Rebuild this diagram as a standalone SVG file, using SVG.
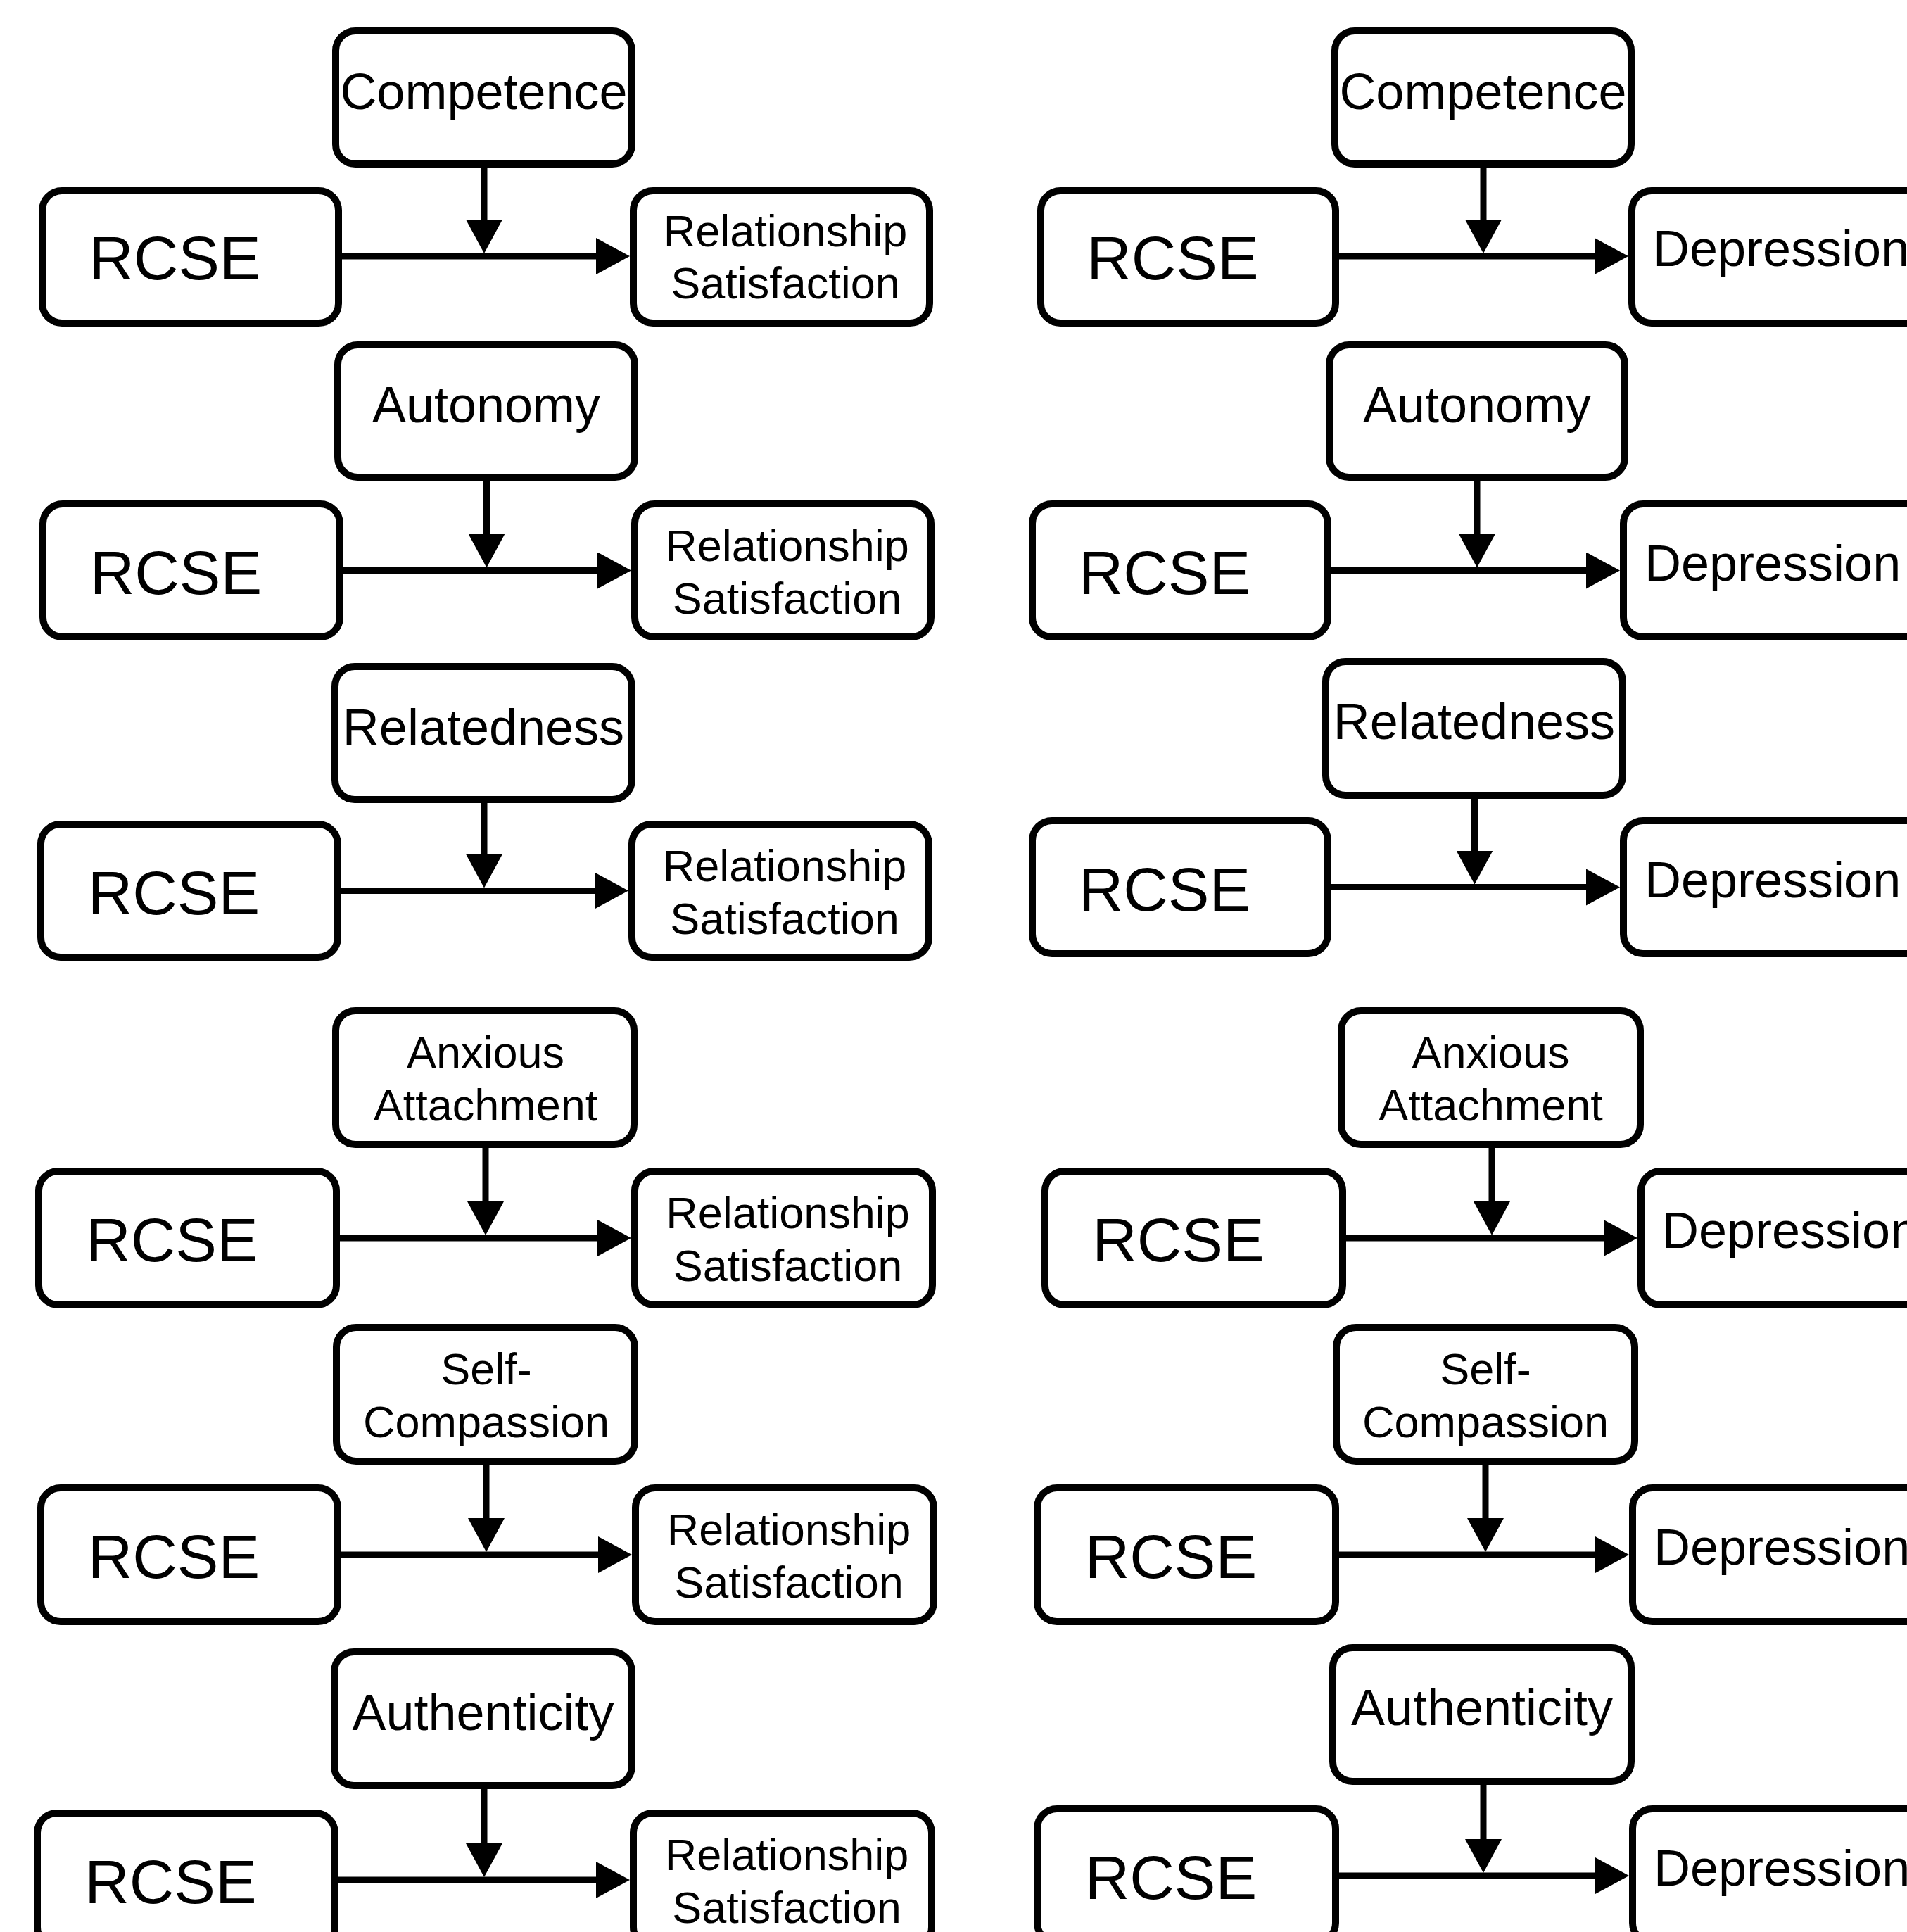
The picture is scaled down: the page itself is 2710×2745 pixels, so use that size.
<svg xmlns="http://www.w3.org/2000/svg" width="2710" height="2745" viewBox="0 0 2710 2745">
<defs>
<style>
.box{fill:#fff;stroke:#000;stroke-width:10}
.conn{fill:none;stroke:#000;stroke-width:9;marker-end:url(#ah)}
text{font-family:"Liberation Sans",Arial,Helvetica,sans-serif;fill:#000}
.t72{font-size:72px;text-anchor:middle}
.t63{font-size:63px;text-anchor:middle}
.t88{font-size:88px;text-anchor:middle}
.dep{font-size:72px;text-anchor:start}
</style>
<marker id="ah" viewBox="0 0 48 52" refX="28" refY="26" markerWidth="48" markerHeight="52" markerUnits="userSpaceOnUse" orient="auto">
<path d="M0,0 L48,26 L0,52 Z" fill="#000"/>
</marker>
</defs>
<rect width="2710" height="2745" fill="#fff"/>

<g id="connectors">
<path class="conn" d="M481,364 H875"/>
<path class="conn" d="M688,233 V340"/>
<path class="conn" d="M483,810.5 H877"/>
<path class="conn" d="M691.5,678 V786.5"/>
<path class="conn" d="M480,1265.5 H873"/>
<path class="conn" d="M688,1136 V1241.5"/>
<path class="conn" d="M478,1759 H877"/>
<path class="conn" d="M690,1626 V1735"/>
<path class="conn" d="M480,2209 H878"/>
<path class="conn" d="M691,2076 V2185"/>
<path class="conn" d="M476,2671 H875"/>
<path class="conn" d="M688,2537 V2647"/>
<path class="conn" d="M1898,364 H2294"/>
<path class="conn" d="M2108,233 V340"/>
<path class="conn" d="M1887,810.5 H2282"/>
<path class="conn" d="M2099,678 V786.5"/>
<path class="conn" d="M1887,1260.5 H2282"/>
<path class="conn" d="M2095.5,1130 V1236.5"/>
<path class="conn" d="M1908,1759 H2307"/>
<path class="conn" d="M2120,1626 V1735"/>
<path class="conn" d="M1898,2209 H2295"/>
<path class="conn" d="M2111,2076 V2185"/>
<path class="conn" d="M1898,2665 H2295"/>
<path class="conn" d="M2108,2531 V2641"/>
</g>

<!-- Left column -->
<g id="L1-mod"><rect class="box" x="477" y="44" width="421" height="189" rx="28"/><text class="t72" x="687.5" y="154.5">Competence</text></g>
<g id="L1-rcse"><rect class="box" x="60" y="271" width="421" height="188" rx="28"/><text class="t88" x="248.5" y="397">RCSE</text></g>
<g id="L1-out"><rect class="box" x="900" y="271" width="421" height="188" rx="28"/><text class="t63" x="1116" y="350">Relationship</text><text class="t63" x="1116" y="424">Satisfaction</text></g>

<g id="L2-mod"><rect class="box" x="480" y="490" width="422" height="188" rx="28"/><text class="t72" x="691" y="600">Autonomy</text></g>
<g id="L2-rcse"><rect class="box" x="61" y="716" width="422" height="189" rx="28"/><text class="t88" x="250" y="843.5">RCSE</text></g>
<g id="L2-out"><rect class="box" x="902" y="716" width="421" height="189" rx="28"/><text class="t63" x="1118.5" y="796.5">Relationship</text><text class="t63" x="1118.5" y="871.5">Satisfaction</text></g>

<g id="L3-mod"><rect class="box" x="476" y="947" width="422" height="189" rx="28"/><text class="t72" x="687" y="1057.5">Relatedness</text></g>
<g id="L3-rcse"><rect class="box" x="58" y="1171" width="422" height="189" rx="28"/><text class="t88" x="247" y="1298.5">RCSE</text></g>
<g id="L3-out"><rect class="box" x="898" y="1171" width="422" height="189" rx="28"/><text class="t63" x="1115" y="1251.5">Relationship</text><text class="t63" x="1115" y="1326.5">Satisfaction</text></g>

<g id="L4-mod"><rect class="box" x="477" y="1436" width="424" height="190" rx="28"/><text class="t63" x="690" y="1517">Anxious</text><text class="t63" x="690" y="1592">Attachment</text></g>
<g id="L4-rcse"><rect class="box" x="55" y="1664" width="423" height="190" rx="28"/><text class="t88" x="244.5" y="1792">RCSE</text></g>
<g id="L4-out"><rect class="box" x="902" y="1664" width="423" height="190" rx="28"/><text class="t63" x="1119.5" y="1745">Relationship</text><text class="t63" x="1119.5" y="1820">Satisfaction</text></g>

<g id="L5-mod"><rect class="box" x="478" y="1886" width="424" height="190" rx="28"/><text class="t63" x="691" y="1967">Self-</text><text class="t63" x="691" y="2042">Compassion</text></g>
<g id="L5-rcse"><rect class="box" x="58" y="2114" width="422" height="190" rx="28"/><text class="t88" x="247" y="2242">RCSE</text></g>
<g id="L5-out"><rect class="box" x="903" y="2114" width="424" height="190" rx="28"/><text class="t63" x="1121" y="2195">Relationship</text><text class="t63" x="1121" y="2270">Satisfaction</text></g>

<g id="L6-mod"><rect class="box" x="475" y="2347" width="423" height="190" rx="28"/><text class="t72" x="686.5" y="2458">Authenticity</text></g>
<g id="L6-rcse"><rect class="box" x="53" y="2576" width="423" height="190" rx="28"/><text class="t88" x="242.5" y="2704">RCSE</text></g>
<g id="L6-out"><rect class="box" x="900" y="2576" width="424" height="190" rx="28"/><text class="t63" x="1118" y="2657">Relationship</text><text class="t63" x="1118" y="2732">Satisfaction</text></g>

<!-- Right column -->
<g id="R1-mod"><rect class="box" x="1897" y="44" width="421" height="189" rx="28"/><text class="t72" x="2107.5" y="154.5">Competence</text></g>
<g id="R1-rcse"><rect class="box" x="1479" y="271" width="419" height="188" rx="28"/><text class="t88" x="1666.5" y="397">RCSE</text></g>
<g id="R1-out"><rect class="box" x="2319" y="271" width="500" height="188" rx="28"/><text class="dep" x="2349" y="378">Depression</text></g>

<g id="R2-mod"><rect class="box" x="1889" y="490" width="420" height="188" rx="28"/><text class="t72" x="2099" y="600">Autonomy</text></g>
<g id="R2-rcse"><rect class="box" x="1467" y="716" width="420" height="189" rx="28"/><text class="t88" x="1655" y="843.5">RCSE</text></g>
<g id="R2-out"><rect class="box" x="2307" y="716" width="500" height="189" rx="28"/><text class="dep" x="2337" y="824.5">Depression</text></g>

<g id="R3-mod"><rect class="box" x="1884" y="940" width="422" height="190" rx="28"/><text class="t72" x="2095" y="1050">Relatedness</text></g>
<g id="R3-rcse"><rect class="box" x="1467" y="1166" width="420" height="189" rx="28"/><text class="t88" x="1655" y="1293.5">RCSE</text></g>
<g id="R3-out"><rect class="box" x="2307" y="1166" width="500" height="189" rx="28"/><text class="dep" x="2337" y="1274.5">Depression</text></g>

<g id="R4-mod"><rect class="box" x="1906" y="1436" width="425" height="190" rx="28"/><text class="t63" x="2118.5" y="1517">Anxious</text><text class="t63" x="2118.5" y="1592">Attachment</text></g>
<g id="R4-rcse"><rect class="box" x="1485" y="1664" width="423" height="190" rx="28"/><text class="t88" x="1674.5" y="1792">RCSE</text></g>
<g id="R4-out"><rect class="box" x="2332" y="1664" width="500" height="190" rx="28"/><text class="dep" x="2362" y="1773">Depression</text></g>

<g id="R5-mod"><rect class="box" x="1899" y="1886" width="424" height="190" rx="28"/><text class="t63" x="2111" y="1967">Self-</text><text class="t63" x="2111" y="2042">Compassion</text></g>
<g id="R5-rcse"><rect class="box" x="1474" y="2114" width="424" height="190" rx="28"/><text class="t88" x="1664" y="2242">RCSE</text></g>
<g id="R5-out"><rect class="box" x="2320" y="2114" width="500" height="190" rx="28"/><text class="dep" x="2350" y="2223">Depression</text></g>

<g id="R6-mod"><rect class="box" x="1894" y="2341" width="424" height="190" rx="28"/><text class="t72" x="2106" y="2451">Authenticity</text></g>
<g id="R6-rcse"><rect class="box" x="1474" y="2570" width="424" height="190" rx="28"/><text class="t88" x="1664" y="2698">RCSE</text></g>
<g id="R6-out"><rect class="box" x="2320" y="2570" width="500" height="190" rx="28"/><text class="dep" x="2350" y="2679">Depression</text></g>
</svg>
